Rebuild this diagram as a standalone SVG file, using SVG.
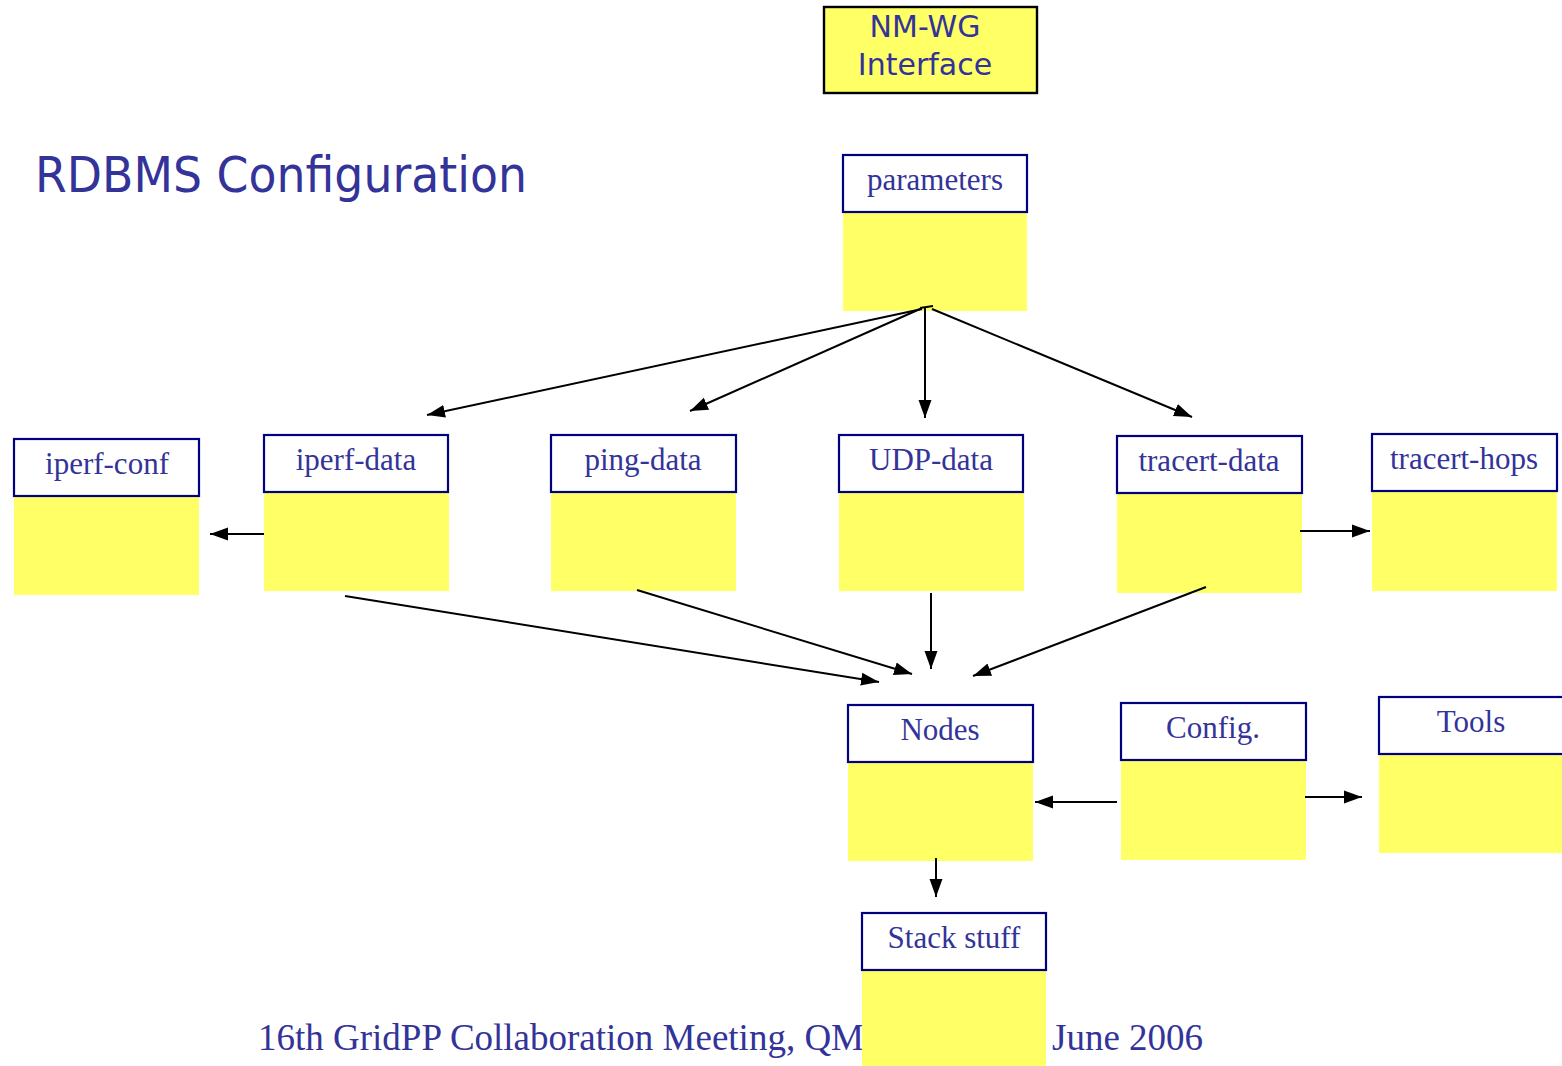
<svg xmlns="http://www.w3.org/2000/svg" width="1562" height="1066" viewBox="0 0 1562 1066">
  <style>
    .hdr { fill: #ffffff; stroke: #000080; stroke-width: 2.2; }
    .body { fill: #ffff66; }
    .lbl { font-family: "Liberation Serif", "Times New Roman", serif; font-size: 31px; fill: #333399; text-anchor: middle; }
    .sans { font-family: "DejaVu Sans", Verdana, sans-serif; fill: #333399; }
    .foot { font-family: "Liberation Serif", "Times New Roman", serif; font-size: 37px; fill: #333399; }
    .conn line { stroke: #000000; stroke-width: 2; fill: none; }
  </style>
  <defs>
    <marker id="arrow" viewBox="0 0 10 10" refX="10" refY="5" markerWidth="9" markerHeight="9" markerUnits="strokeWidth" orient="auto">
      <path d="M0,1.4 L10,5 L0,8.6 Z" fill="#000000"/>
    </marker>
  </defs>

  <rect width="1562" height="1066" fill="#ffffff"/>

  <!-- slide title -->
  <text class="sans" x="35" y="192" font-size="50" textLength="492" lengthAdjust="spacingAndGlyphs">RDBMS Configuration</text>

  <!-- footer line (partly covered by the Stack stuff table) -->
  <text class="foot" x="258" y="1050">16th GridPP Collaboration Meeting, QM</text>
  <text class="foot" x="1052" y="1050">June 2006</text>

  <!-- interface box -->
  <g id="nmwg">
    <rect x="824" y="7" width="213" height="86" fill="#ffff66" stroke="#000000" stroke-width="2.4"/>
    <text class="sans" x="925" y="37" font-size="30" text-anchor="middle">NM-WG</text>
    <text class="sans" x="925" y="75" font-size="30" text-anchor="middle">Interface</text>
  </g>

  <!-- tables -->
  <g id="parameters">
    <rect class="body" x="843" y="212" width="184" height="99"/>
    <rect class="hdr" x="843" y="155" width="184" height="57"/>
    <text class="lbl" x="935" y="190">parameters</text>
  </g>
  <g id="iperf-conf">
    <rect class="body" x="14" y="496" width="185" height="99"/>
    <rect class="hdr" x="14" y="439" width="185" height="57"/>
    <text class="lbl" x="107" y="474">iperf-conf</text>
  </g>
  <g id="iperf-data">
    <rect class="body" x="264" y="492" width="185" height="99"/>
    <rect class="hdr" x="264" y="435" width="184" height="57"/>
    <text class="lbl" x="356" y="470">iperf-data</text>
  </g>
  <g id="ping-data">
    <rect class="body" x="551" y="492" width="185" height="99"/>
    <rect class="hdr" x="551" y="435" width="185" height="57"/>
    <text class="lbl" x="643" y="470">ping-data</text>
  </g>
  <g id="udp-data">
    <rect class="body" x="839" y="492" width="185" height="99"/>
    <rect class="hdr" x="839" y="435" width="184" height="57"/>
    <text class="lbl" x="931" y="470">UDP-data</text>
  </g>
  <g id="tracert-data">
    <rect class="body" x="1117" y="493" width="185" height="100"/>
    <rect class="hdr" x="1117" y="436" width="185" height="57"/>
    <text class="lbl" x="1209" y="471">tracert-data</text>
  </g>
  <g id="tracert-hops">
    <rect class="body" x="1372" y="491" width="185" height="100"/>
    <rect class="hdr" x="1372" y="434" width="185" height="57"/>
    <text class="lbl" x="1464" y="469">tracert-hops</text>
  </g>
  <g id="nodes">
    <rect class="body" x="848" y="762" width="185" height="99"/>
    <rect class="hdr" x="848" y="705" width="185" height="57"/>
    <text class="lbl" x="940" y="740">Nodes</text>
  </g>
  <g id="config">
    <rect class="body" x="1121" y="760" width="185" height="100"/>
    <rect class="hdr" x="1121" y="703" width="185" height="57"/>
    <text class="lbl" x="1213" y="738">Config.</text>
  </g>
  <g id="tools">
    <rect class="body" x="1379" y="754" width="190" height="99"/>
    <rect class="hdr" x="1379" y="697" width="190" height="57"/>
    <text class="lbl" x="1471" y="732">Tools</text>
  </g>
  <g id="stack-stuff">
    <rect class="body" x="862" y="970" width="184" height="96"/>
    <rect class="hdr" x="862" y="913" width="184" height="57"/>
    <text class="lbl" x="954" y="948">Stack stuff</text>
  </g>

  <!-- connectors -->
  <g class="conn">
    <line x1="920" y1="308" x2="933" y2="306"/>
    <line x1="922" y1="309" x2="427" y2="415" marker-end="url(#arrow)"/>
    <line x1="920" y1="309" x2="690" y2="411" marker-end="url(#arrow)"/>
    <line x1="925" y1="307" x2="925" y2="418" marker-end="url(#arrow)"/>
    <line x1="932" y1="309" x2="1192" y2="417" marker-end="url(#arrow)"/>
    <line x1="264" y1="534" x2="210" y2="534" marker-end="url(#arrow)"/>
    <line x1="1300" y1="531" x2="1370" y2="531" marker-end="url(#arrow)"/>
    <line x1="345" y1="596" x2="879" y2="682" marker-end="url(#arrow)"/>
    <line x1="637" y1="590" x2="912" y2="674" marker-end="url(#arrow)"/>
    <line x1="931" y1="593" x2="931" y2="669" marker-end="url(#arrow)"/>
    <line x1="1206" y1="587" x2="973" y2="676" marker-end="url(#arrow)"/>
    <line x1="1117" y1="802" x2="1035" y2="802" marker-end="url(#arrow)"/>
    <line x1="1305" y1="797" x2="1362" y2="797" marker-end="url(#arrow)"/>
    <line x1="936" y1="858" x2="936" y2="897" marker-end="url(#arrow)"/>
  </g>
</svg>
